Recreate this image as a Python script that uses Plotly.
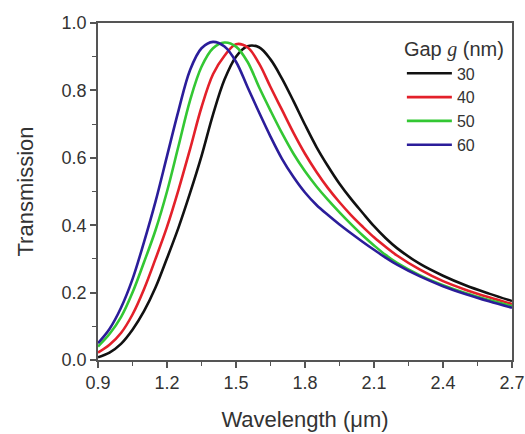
import plotly.graph_objects as go

wavelength = [0.9, 0.95, 1.0, 1.05, 1.1, 1.15, 1.2, 1.25, 1.3, 1.35, 1.4, 1.45, 1.5, 1.55,
              1.6, 1.65, 1.7, 1.75, 1.8, 1.85, 1.9, 1.95, 2.0, 2.05, 2.1, 2.15, 2.2,
              2.3, 2.4, 2.5, 2.6, 2.7]

t_30 = [0.008, 0.022, 0.048, 0.09, 0.145, 0.215, 0.302, 0.393, 0.495, 0.605, 0.728, 0.832, 0.9, 0.931,
        0.928, 0.892, 0.835, 0.768, 0.698, 0.632, 0.575, 0.523, 0.478, 0.437, 0.397, 0.362, 0.332,
        0.285, 0.25, 0.221, 0.197, 0.175]
t_40 = [0.022, 0.045, 0.08, 0.135, 0.21, 0.30, 0.395, 0.505, 0.625, 0.75, 0.848, 0.903, 0.937, 0.928,
        0.88, 0.81, 0.742, 0.674, 0.612, 0.558, 0.51, 0.468, 0.43, 0.396, 0.364, 0.336, 0.31,
        0.268, 0.234, 0.208, 0.186, 0.166]
t_50 = [0.04, 0.077, 0.127, 0.20, 0.29, 0.385, 0.50, 0.635, 0.77, 0.87, 0.925, 0.942, 0.93, 0.885,
        0.81, 0.74, 0.673, 0.612, 0.56, 0.515, 0.475, 0.438, 0.403, 0.37, 0.34, 0.312, 0.288,
        0.251, 0.222, 0.198, 0.178, 0.16]
t_60 = [0.05, 0.092, 0.155, 0.24, 0.35, 0.47, 0.605, 0.74, 0.86, 0.925, 0.944, 0.93, 0.885, 0.81,
        0.735, 0.663, 0.597, 0.543, 0.497, 0.46, 0.43, 0.402, 0.376, 0.351, 0.327, 0.304, 0.283,
        0.248, 0.219, 0.195, 0.174, 0.155]

gap_labels = ["30", "40", "50", "60"]
series = [t_30, t_40, t_50, t_60]
colors = ["#111111", "#e3202a", "#33c733", "#2b1d9a"]

x_ticks = [0.9, 1.2, 1.5, 1.8, 2.1, 2.4, 2.7]
y_ticks = [0.0, 0.2, 0.4, 0.6, 0.8, 1.0]

fig = go.Figure()
for lab, ys, c in zip(gap_labels, series, colors):
    fig.add_trace(go.Scatter(x=wavelength, y=ys, mode="lines", name=lab,
                             line=dict(color=c, width=2.6, shape="spline", smoothing=1.0)))

axis_common = dict(showline=True, linecolor="#555555", linewidth=1.5, mirror=True,
                   ticks="outside", ticklen=6, tickwidth=1.5, tickcolor="#555555",
                   showgrid=False, zeroline=False, automargin=False,
                   tickfont=dict(family="Liberation Sans, Arial", size=18, color="#333333"))

fig.update_xaxes(range=[0.9, 2.7], tickvals=x_ticks, ticktext=[f"{v:.1f}" for v in x_ticks],
                 minor=dict(ticks="outside", ticklen=4, tickwidth=1.2, tickcolor="#555555", dtick=0.15, tick0=0.9),
                 title=dict(text="Wavelength (μm)", font=dict(family="Liberation Sans, Arial", size=22, color="#333333"), standoff=19),
                 **axis_common)
fig.update_yaxes(range=[0, 1.0], tickvals=y_ticks, ticktext=[f"{v:.1f}" for v in y_ticks],
                 minor=dict(ticks="outside", ticklen=4, tickwidth=1.2, tickcolor="#555555", dtick=0.1, tick0=0),
                 title=dict(text="Transmission", font=dict(family="Liberation Sans, Arial", size=22, color="#333333"), standoff=22),
                 **axis_common)

fig.update_layout(
    width=525, height=434,
    margin=dict(l=97.5, r=13.3, t=22.7, b=74),
    paper_bgcolor="white", plot_bgcolor="white",
    showlegend=True,
    legend=dict(x=0.734, y=0.978, xanchor="left", yanchor="top",
                bgcolor="rgba(0,0,0,0)", borderwidth=0,
                font=dict(family="Liberation Sans, Arial", size=16, color="#333333"),
                itemwidth=45,
                title=dict(text="Gap <span style='font-family:Liberation Serif'><i>g</i></span> (nm)",
                           font=dict(family="Liberation Sans, Arial", size=20, color="#333333"))),
)

fig.write_html("out.html")
